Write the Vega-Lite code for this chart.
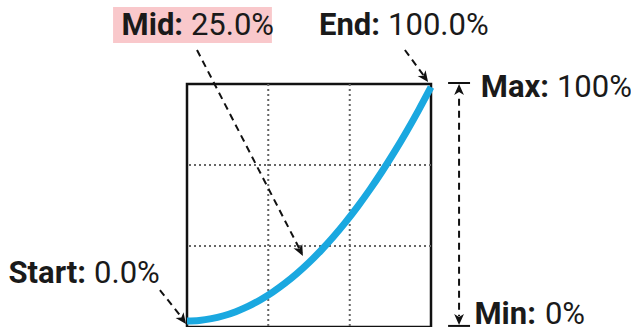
{
  "$schema": "https://vega.github.io/schema/vega-lite/v6.json",
  "width": 244,
  "height": 243,
  "autosize": {"type": "none"},
  "padding": {"left": 187, "top": 84, "right": 200, "bottom": 0},
  "background": "white",
  "view": {"stroke": "#111111", "strokeWidth": 2.5},
  "config": {"font": "Roboto"},
  "datasets": {
    "curve": [
      {"t": 0, "v": 0}, {"t": 5, "v": 0.25}, {"t": 10, "v": 1}, {"t": 15, "v": 2.25},
      {"t": 20, "v": 4}, {"t": 25, "v": 6.25}, {"t": 30, "v": 9}, {"t": 35, "v": 12.25},
      {"t": 40, "v": 16}, {"t": 45, "v": 20.25}, {"t": 50, "v": 25}, {"t": 55, "v": 30.25},
      {"t": 60, "v": 36}, {"t": 65, "v": 42.25}, {"t": 70, "v": 49}, {"t": 75, "v": 56.25},
      {"t": 80, "v": 64}, {"t": 85, "v": 72.25}, {"t": 90, "v": 81}, {"t": 95, "v": 90.25},
      {"t": 100, "v": 100}
    ],
    "labels": [
      {"key": "Mid:", "val": "25.0%", "xb": -1.6, "xv": 1.6, "y": 122.2},
      {"key": "End:", "val": "100.0%", "xb": 79.1, "xv": 82.4, "y": 122.2},
      {"key": "Max:", "val": "100%", "xb": 148.4, "xv": 151.6, "y": 95.7},
      {"key": "Min:", "val": "0%", "xb": 143.0, "xv": 146.7, "y": -1.3},
      {"key": "Start:", "val": "0.0%", "xb": -41.4, "xv": -38.1, "y": 16.2}
    ],
    "arrows": [
      {"name": "mid", "x": 4.1, "y": 115.8, "x2": 47.0, "y2": 29.0},
      {"name": "end", "x": 89.3, "y": 115.8, "x2": 98.0, "y2": 103.5},
      {"name": "start", "x": -11.1, "y": 13.2, "x2": -1.3, "y2": 0.4},
      {"name": "range", "x": 111.5, "y": 95.0, "x2": 111.5, "y2": 2.0}
    ]
  },
  "layer": [
    {
      "data": {"values": [{"x1": -30.3, "x2": 34.8, "y1": 134.2, "y2": 118.8}]},
      "mark": {"type": "rect", "color": "#f9c8cb"},
      "encoding": {
        "x": {"field": "x1", "type": "quantitative", "scale": {"domain": [0, 100], "nice": false, "zero": false}, "axis": null},
        "x2": {"field": "x2"},
        "y": {"field": "y1", "type": "quantitative", "scale": {"domain": [-2.56, 101.28], "nice": false, "zero": false}, "axis": null},
        "y2": {"field": "y2"}
      }
    },
    {
      "data": {"values": [{"x": 33.3}, {"x": 66.7}]},
      "mark": {"type": "rule", "color": "#666666", "strokeWidth": 2, "strokeDash": [2, 3]},
      "encoding": {"x": {"field": "x", "type": "quantitative"}}
    },
    {
      "data": {"values": [{"y": 66.7}, {"y": 32.1}]},
      "mark": {"type": "rule", "color": "#666666", "strokeWidth": 2, "strokeDash": [2, 3]},
      "encoding": {"y": {"field": "y", "type": "quantitative"}}
    },
    {
      "data": {"name": "curve"},
      "mark": {"type": "line", "color": "#1aa8e0", "strokeWidth": 7, "interpolate": "monotone"},
      "encoding": {
        "x": {"field": "t", "type": "quantitative"},
        "y": {"field": "v", "type": "quantitative"}
      }
    },
    {
      "data": {"name": "arrows"},
      "mark": {"type": "rule", "color": "#111111", "strokeWidth": 2, "strokeDash": [7, 5]},
      "encoding": {
        "x": {"field": "x", "type": "quantitative"},
        "y": {"field": "y", "type": "quantitative"},
        "x2": {"field": "x2"},
        "y2": {"field": "y2"}
      }
    },
    {
      "data": {"values": [{"x1": 107.0, "x2": 116.0, "y": 101.7}, {"x1": 107.0, "x2": 116.0, "y": -2.1}]},
      "mark": {"type": "rule", "color": "#111111", "strokeWidth": 2},
      "encoding": {
        "x": {"field": "x1", "type": "quantitative"},
        "x2": {"field": "x2"},
        "y": {"field": "y", "type": "quantitative"}
      }
    },
    {
      "data": {"values": [{"x": 47.5, "y": 27.8}]},
      "mark": {"type": "point", "shape": "M0,0 L0.8,1.8 L0,1.3 L-0.8,1.8 Z", "filled": true, "color": "#111111", "opacity": 1, "size": 150, "angle": 153},
      "encoding": {"x": {"field": "x", "type": "quantitative"}, "y": {"field": "y", "type": "quantitative"}}
    },
    {
      "data": {"values": [{"x": 98.8, "y": 102.1}, {"x": -0.4, "y": -1.3}]},
      "mark": {"type": "point", "shape": "M0,0 L0.8,1.8 L0,1.3 L-0.8,1.8 Z", "filled": true, "color": "#111111", "opacity": 1, "size": 150, "angle": 144},
      "encoding": {"x": {"field": "x", "type": "quantitative"}, "y": {"field": "y", "type": "quantitative"}}
    },
    {
      "data": {"values": [{"x": 111.5, "y": 101.3}]},
      "mark": {"type": "point", "shape": "M0,0 L0.8,1.8 L0,1.3 L-0.8,1.8 Z", "filled": true, "color": "#111111", "opacity": 1, "size": 150, "angle": 0},
      "encoding": {"x": {"field": "x", "type": "quantitative"}, "y": {"field": "y", "type": "quantitative"}}
    },
    {
      "data": {"values": [{"x": 111.5, "y": -1.7}]},
      "mark": {"type": "point", "shape": "M0,0 L0.8,1.8 L0,1.3 L-0.8,1.8 Z", "filled": true, "color": "#111111", "opacity": 1, "size": 150, "angle": 180},
      "encoding": {"x": {"field": "x", "type": "quantitative"}, "y": {"field": "y", "type": "quantitative"}}
    },
    {
      "data": {"name": "labels"},
      "mark": {"type": "text", "font": "Roboto", "fontSize": 31, "fontWeight": "bold", "align": "right", "baseline": "alphabetic", "color": "#1a1a1a"},
      "encoding": {
        "x": {"field": "xb", "type": "quantitative"},
        "y": {"field": "y", "type": "quantitative"},
        "text": {"field": "key"}
      }
    },
    {
      "data": {"name": "labels"},
      "mark": {"type": "text", "font": "Roboto", "fontSize": 31, "fontWeight": "normal", "align": "left", "baseline": "alphabetic", "color": "#1a1a1a"},
      "encoding": {
        "x": {"field": "xv", "type": "quantitative"},
        "y": {"field": "y", "type": "quantitative"},
        "text": {"field": "val"}
      }
    }
  ]
}
